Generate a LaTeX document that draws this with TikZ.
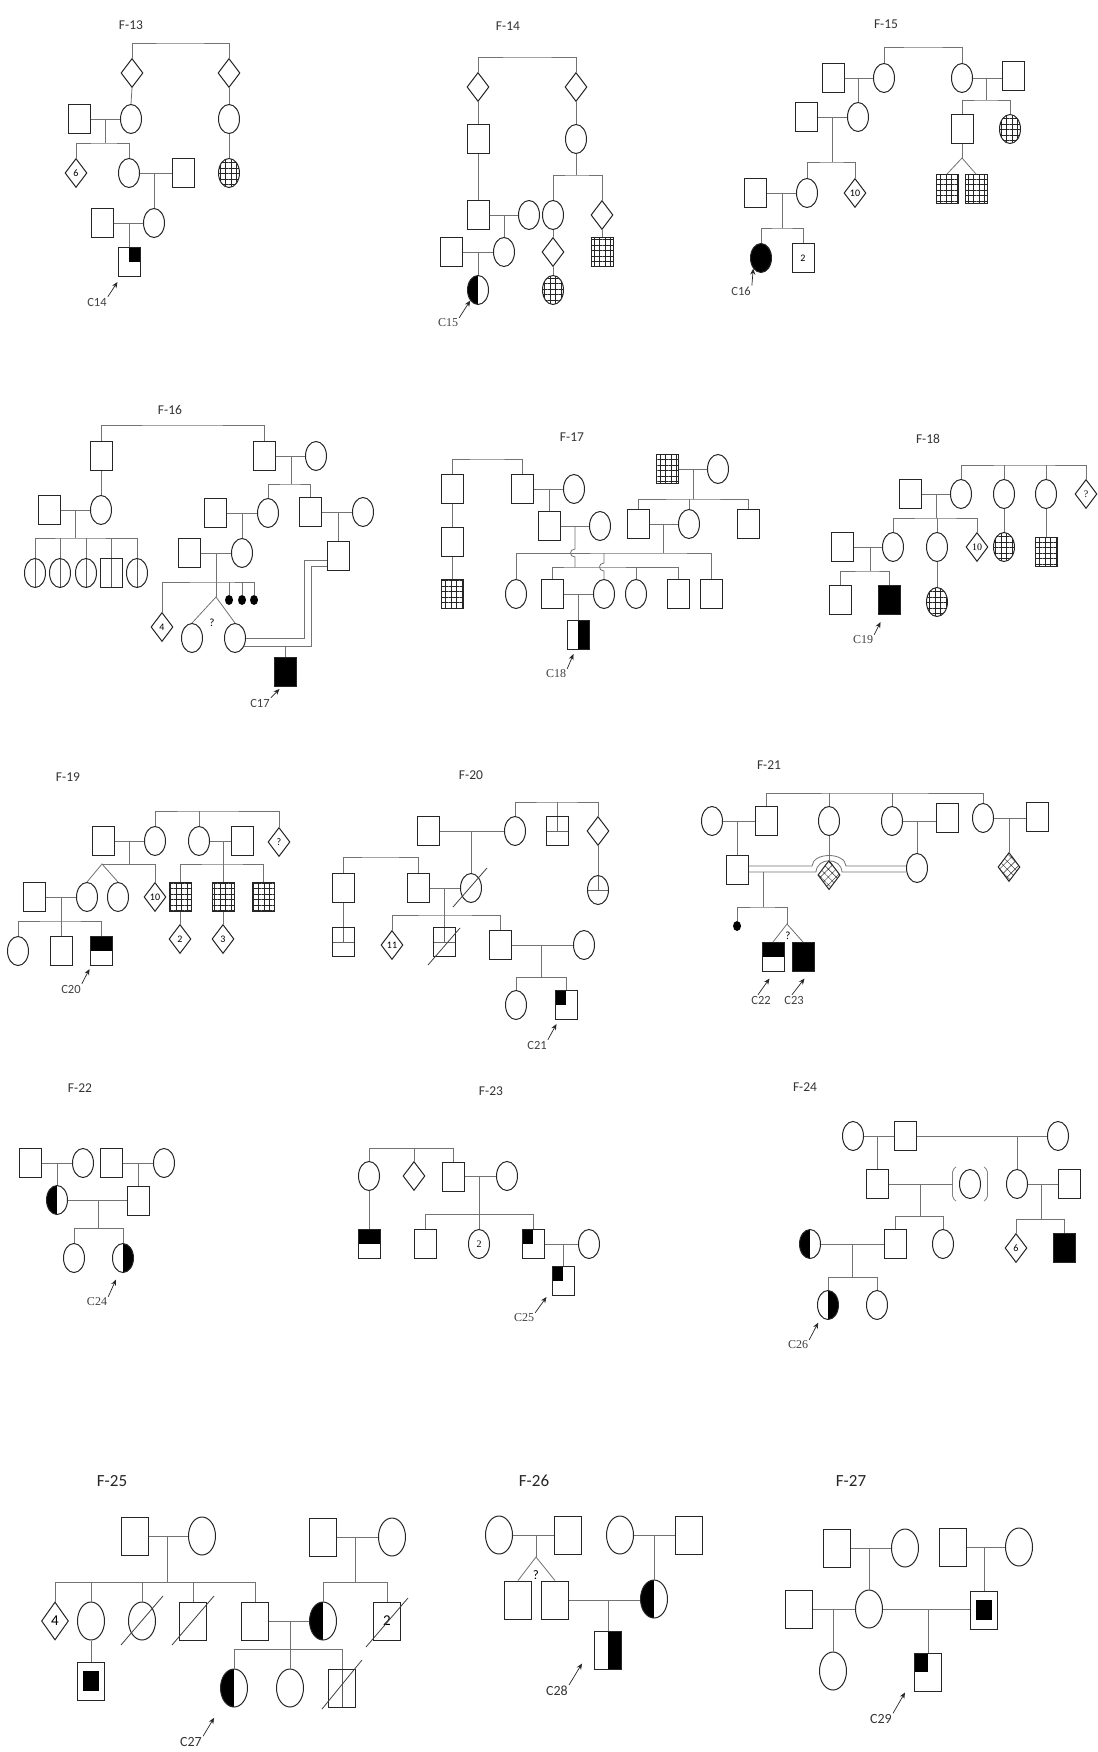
\documentclass[tikz,border=0pt]{standalone}
\usepackage{fontspec}
\setmainfont{Carlito}
\newfontfamily\serifF{Liberation Serif}
\usetikzlibrary{shapes.geometric,patterns.meta,arrows.meta}
\newcommand\fsz[1]{\fontsize{#1}{#1}\selectfont}
\tikzset{
 ln/.style={draw=black!55, line width=0.8pt},
 sl/.style={draw=black!75, line width=0.8pt},
 shp/.style={draw=black!85, line width=1pt, inner sep=0pt, fill=white},
 sq/.style={shp, rectangle, minimum width=22pt, minimum height=29pt, font=\fsz{10}},
 ci/.style={shp, ellipse, minimum width=21pt, minimum height=29pt, font=\fsz{10}},
 di/.style={shp, diamond, minimum width=22pt, minimum height=29pt, font=\fsz{10}},
 big/.style={minimum width=27pt, minimum height=38pt},
 gridc/.style={pattern={Hatch[angle=0,distance=5.5pt,line width=0.45pt]}, pattern color=black!85},
 gridd/.style={pattern={Hatch[angle=45,distance=5.5pt,line width=0.45pt]}, pattern color=black!85},
 lh/.style={path picture={\fill[black] (path picture bounding box.south west) rectangle (path picture bounding box.north);}},
 rh/.style={path picture={\fill[black] (path picture bounding box.south) rectangle (path picture bounding box.north east);}},
 th/.style={path picture={\fill[black] (path picture bounding box.west) rectangle (path picture bounding box.north east);}},
 tl/.style={path picture={\fill[black] (path picture bounding box.west) rectangle (path picture bounding box.north);}},
 tr/.style={path picture={\fill[black] (path picture bounding box.center) rectangle (path picture bounding box.north east);}},
 innr/.style={path picture={\fill[black] ([xshift=5.5pt,yshift=9pt]path picture bounding box.south west) rectangle ([xshift=-5.5pt,yshift=-9pt]path picture bounding box.north east);}},
 vl/.style={path picture={\draw[black!65,line width=0.7pt] (path picture bounding box.north) -- (path picture bounding box.south);}},
 hm/.style={path picture={\draw[black!60,line width=0.7pt] (path picture bounding box.west) -- (path picture bounding box.east) (path picture bounding box.north) -- (path picture bounding box.center);}},
 blob/.style={fill=black, ellipse, minimum width=8pt, minimum height=10pt, inner sep=0pt},
 brk/.style={draw=black!50, line width=0.8pt, rounded corners=2pt},
 ttl/.style={font=\fsz{13.5}, text=black!80},
 ttlb/.style={font=\fsz{17}, text=black!85},
 lab/.style={font=\fsz{12.5}, text=black!75, inner sep=1pt},
 labs/.style={font=\serifF\fsz{12}, text=black!75, inner sep=1pt},
 labb/.style={font=\fsz{14}, text=black!80, inner sep=1pt},
 arr/.style={-{Stealth[length=6pt,width=5pt]}, line width=0.7pt, draw=black!85},
}
\begin{document}
\begin{tikzpicture}[x=1pt,y=-1pt]
\fill[white] (0,0) rectangle (1097,1752);
\useasboundingbox (0,0) rectangle (1097,1752);

% ===== F-13
\node[ttl] (t13) at (131,25) {F-13};
\node[di] (a13) at (132,73) {};
\node[di] (b13) at (229,73) {};
\coordinate (s13a) at (180,43);
\draw[ln] (a13.north) |- (s13a) -| (b13.north);
\node[sq] (c13) at (79,119) {};
\node[ci] (d13) at (131,119) {};
\node[ci] (h13) at (229,119) {};
\draw[ln] (a13.south) -- (d13.north);
\draw[ln] (b13.south) -- (h13.north);
\draw[ln] (c13.east) -- (d13.west);
\coordinate (m13a) at (105,119);
\coordinate (s13b) at (105,143);
\draw[ln] (m13a) -- (s13b);
\node[di] (e13) at (76,173) {6};
\node[ci] (f13) at (129,173) {};
\node[sq] (g13) at (183,173) {};
\node[ci,gridc] (i13) at (229,173) {};
\draw[ln] (e13.north) |- (s13b) -| (f13.north);
\draw[ln] (f13.east) -- (g13.west);
\draw[ln] (h13.south) -- (i13.north);
\node[ci] (j13) at (154,223) {};
\node[sq] (k13) at (102,223) {};
\draw[ln] (j13.north |- f13) -- (j13.north);
\draw[ln] (k13.east) -- (j13.west);
\node[sq,tr] (l13) at (129,262) {};
\draw[ln] (l13.north |- k13) -- (l13.north);
\node[lab] (L14) at (97,302) {C14};
\draw[arr] (L14.north east) -- ([shift={(0,5)}]l13.south west);

% ===== F-14
\node[ttl] (t14) at (508,26) {F-14};
\node[di] (a14) at (478,87) {};
\node[di] (b14) at (576,87) {};
\coordinate (s14a) at (527,57);
\draw[ln] (a14.north) |- (s14a) -| (b14.north);
\node[sq] (c14) at (478,139) {};
\node[ci] (d14) at (576,139) {};
\draw[ln] (a14.south) -- (c14.north);
\draw[ln] (b14.south) -- (d14.north);
\node[sq] (e14) at (478,215) {};
\draw[ln] (c14.south) -- (e14.north);
\node[ci] (f14) at (529,215) {};
\draw[ln] (e14.east) -- (f14.west);
\node[ci] (g14) at (504,252) {};
\draw[ln] (g14.north |- e14) -- (g14.north);
\node[sq] (h14) at (451,252) {};
\draw[ln] (h14.east) -- (g14.west);
\node[ci,lh] (i14) at (478,290) {};
\draw[ln] (i14.north |- h14) -- (i14.north);
\coordinate (s14b) at (576,175);
\draw[ln] (d14.south) -- (s14b);
\node[ci] (j14) at (553,215) {};
\node[di] (k14) at (602,215) {};
\draw[ln] (j14.north) |- (s14b) -| (k14.north);
\node[di] (l14) at (553,252) {};
\node[ci,gridc] (m14) at (553,290) {};
\node[sq,gridc] (n14) at (602,252) {};
\draw[ln] (j14.south) -- (l14.north);
\draw[ln] (l14.south) -- (m14.north);
\draw[ln] (k14.south) -- (n14.north);
\node[labs] (L15) at (448,323) {C15};
\draw[arr] (L15.north east) -- (i14.south west);

% ===== F-15
\node[ttl] (t15) at (886,24) {F-15};
\node[ci] (a15) at (884,78) {};
\node[ci] (b15) at (962,78) {};
\coordinate (s15a) at (923,47);
\draw[ln] (a15.north) |- (s15a) -| (b15.north);
\node[sq] (c15) at (833,78) {};
\draw[ln] (c15.east) -- (a15.west);
\node[ci] (d15) at (858,117) {};
\draw[ln] (d15.north |- c15) -- (d15.north);
\node[sq] (e15) at (806,117) {};
\draw[ln] (e15.east) -- (d15.west);
\coordinate (m15a) at (832,117);
\coordinate (s15b) at (832,162);
\draw[ln] (m15a) -- (s15b);
\node[ci] (f15) at (807,193) {};
\node[di] (g15) at (855,193) {10};
\draw[ln] (f15.north) |- (s15b) -| (g15.north);
\node[sq] (h15) at (755,193) {};
\draw[ln] (h15.east) -- (f15.west);
\coordinate (m15b) at (782,193);
\coordinate (s15c) at (782,228);
\draw[ln] (m15b) -- (s15c);
\node[ci,fill=black] (i15) at (761,258) {};
\node[sq] (j15) at (803,258) {2};
\draw[ln] (i15.north) |- (s15c) -| (j15.north);
\node[lab] (L16) at (741,291) {C16};
\draw[arr] (L16.north east) -- (i15.south west);
\node[sq] (k15) at (1013,76) {};
\draw[ln] (b15.east) -- (b15.east -| k15.west);
\coordinate (m15c) at (986,78);
\coordinate (s15d) at (986,100);
\draw[ln] (m15c) -- (s15d);
\node[sq] (l15) at (962,129) {};
\node[ci,gridc] (n15) at (1010,129) {};
\draw[ln] (l15.north) |- (s15d) -| (n15.north);
\coordinate (tw15) at (962,158);
\draw[ln] (l15.south) -- (tw15);
\node[sq,gridc] (o15) at (947,189) {};
\node[sq,gridc] (p15) at (976,189) {};
\draw[ln] (o15.north) -- (tw15) -- (p15.north);

% ===== F-16
\node[ttl] (t16) at (170,410) {F-16};
\node[sq] (a16) at (101,456) {};
\node[sq] (b16) at (264,456) {};
\coordinate (s16a) at (182,425);
\draw[ln] (a16.north) |- (s16a) -| (b16.north);
\node[ci] (c16) at (316,456) {};
\draw[ln] (b16.east) -- (c16.west);
\coordinate (m16a) at (291,456);
\coordinate (s16b) at (291,484);
\draw[ln] (m16a) -- (s16b);
\node[ci] (d16) at (101,510) {};
\draw[ln] (a16.south) -- (d16.north);
\node[sq] (e16) at (49,510) {};
\draw[ln] (e16.east) -- (d16.west);
\coordinate (m16b) at (75,510);
\coordinate (s16c) at (75,538);
\draw[ln] (m16b) -- (s16c);
\node[ci,vl] (f16) at (35,573) {};
\node[ci,vl] (g16) at (60,573) {};
\node[ci,vl] (h16) at (86,573) {};
\node[sq,vl] (i16) at (111,573) {};
\node[ci,vl] (j16) at (137,573) {};
\draw[ln] (f16.north) |- (s16c) -| (j16.north);
\foreach \nn in {g16,h16,i16} \draw[ln] (s16c -| \nn.north) -- (\nn.north);
\node[ci] (k16) at (268,513) {};
\node[sq] (l16) at (310,512) {};
\draw[ln] (k16.north) |- (s16b) -| (l16.north);
\node[sq] (n16) at (215,513) {};
\draw[ln] (n16.east) -- (k16.west);
\node[ci] (o16) at (242,553) {};
\draw[ln] (o16.north |- n16) -- (o16.north);
\node[sq] (p16) at (189,553) {};
\draw[ln] (p16.east) -- (o16.west);
\coordinate (m16c) at (216,553);
\coordinate (s16d) at (216,582);
\draw[ln] (m16c) -- (s16d);
\node[di] (q16) at (162,627) {4};
\coordinate (tw16) at (216,597);
\node[ci] (r16) at (192,638) {};
\node[ci] (u16) at (235,638) {};
\node[blob] (v16) at (229,600) {};
\node[blob] (w16) at (242,600) {};
\node[blob] (x16) at (254,600) {};
\draw[ln] (q16.north) |- (s16d) -| (x16.north);
\draw[ln] (s16d) -- (tw16);
\draw[ln] (r16.north) -- (tw16) -- (u16.north);
\draw[ln] (s16d -| v16.north) -- (v16.north);
\draw[ln] (s16d -| w16.north) -- (w16.north);
\node[font=\fsz{11}] (qq16) at (212,623) {?};
\node[ci] (y16) at (363,512) {};
\draw[ln] (l16.east) -- (y16.west);
\node[sq] (z16) at (338,556) {};
\draw[ln] (z16.north |- l16) -- (z16.north);
\draw[ln] ([yshift=-4pt]z16.west) -- ++(-22,0) |- (u16.east);
\draw[ln] ([yshift=-10pt]z16.west) -- ++(-15,0) |- ([shift={(-1.7,8)}]u16.east);
\coordinate (m16d) at (285,646);
\node[sq,fill=black] (bb16) at (285,672) {};
\draw[ln] (m16d) -- (bb16.north);
\node[lab] (L17) at (260,703) {C17};
\draw[arr] (L17.north east) -- ([shift={(6,2)}]bb16.south west);

% ===== F-17
\node[ttl] (t17) at (572,437) {F-17};
\node[sq] (a17) at (452,489) {};
\node[sq] (b17) at (522,489) {};
\coordinate (s17a) at (487,459);
\draw[ln] (a17.north) |- (s17a) -| (b17.north);
\node[ci] (c17) at (574,489) {};
\draw[ln] (b17.east) -- (c17.west);
\node[sq] (d17) at (549,526) {};
\draw[ln] (d17.north |- b17) -- (d17.north);
\node[sq] (e17) at (452,542) {};
\node[sq,gridc] (f17) at (452,594) {};
\draw[ln] (a17.south) -- (e17.north);
\draw[ln] (e17.south) -- (f17.north);
\node[ci] (g17) at (600,526) {};
\draw[ln] (d17.east) -- (g17.west);
\node[sq,gridc] (h17) at (667,469) {};
\node[ci] (i17) at (718,469) {};
\draw[ln] (h17.east) -- (i17.west);
\coordinate (m17a) at (693,469);
\coordinate (s17b) at (693,499);
\draw[ln] (m17a) -- (s17b);
\node[sq] (j17) at (638,524) {};
\node[ci] (k17) at (689,524) {};
\node[sq] (l17) at (748,524) {};
\draw[ln] (j17.north) |- (s17b) -| (l17.north);
\draw[ln] (s17b -| k17.north) -- (k17.north);
\draw[ln] (j17.east) -- (k17.west);
\coordinate (m17b) at (663,524);
\coordinate (s17c) at (663,553);
\draw[ln] (m17b) -- (s17c);
\node[ci] (n17) at (516,594) {};
\node[ci] (o17) at (604,594) {};
\node[sq] (p17) at (711,594) {};
\draw[ln] (n17.north) |- (s17c) -| (p17.north);
\coordinate (m17c) at (575,526);
\coordinate (s17d) at (575,567);
\draw[ln] (m17c) -- (575,549) .. controls (569,549) and (569,557) .. (575,557) -- (s17d);
\node[sq] (q17) at (552,594) {};
\node[ci] (r17) at (636,594) {};
\node[sq] (u17) at (678,594) {};
\draw[ln] (q17.north) |- (s17d) -| (u17.north);
\draw[ln] (s17d -| r17.north) -- (r17.north);
\draw[ln] (s17c -| o17.north) -- (604,563) .. controls (598,563) and (598,571) .. (604,571) -- (o17.north);
\draw[ln] (q17.east) -- (o17.west);
\node[sq,rh] (v17) at (578,635) {};
\draw[ln] (v17.north |- q17) -- (v17.north);
\node[labs] (L18) at (556,674) {C18};
\draw[arr] (L18.north east) -- ([shift={(7,4)}]v17.south west);

% ===== F-18
\node[ttl] (t18) at (928,439) {F-18};
\node[ci] (a18) at (961,494) {};
\node[ci] (b18) at (1004,494) {};
\node[ci] (c18) at (1046,494) {};
\node[di,font=\serifF\fsz{10}] (d18) at (1086,494) {?};
\coordinate (s18a) at (1025,465);
\draw[ln] (a18.north) |- (s18a) -| (d18.north);
\draw[ln] (s18a -| b18.north) -- (b18.north);
\draw[ln] (s18a -| c18.north) -- (c18.north);
\node[sq] (e18) at (910,494) {};
\draw[ln] (e18.east) -- (a18.west);
\coordinate (m18a) at (936,494);
\coordinate (s18b) at (936,518);
\draw[ln] (m18a) -- (s18b);
\node[ci] (f18) at (893,547) {};
\node[ci] (g18) at (937,547) {};
\node[di,font=\serifF\fsz{10}] (h18) at (977,547) {10};
\draw[ln] (f18.north) |- (s18b) -| (h18.north);
\draw[ln] (s18b -| g18.north) -- (g18.north);
\node[ci,gridc] (i18) at (1004,547) {};
\node[sq,gridc] (j18) at (1046,552) {};
\draw[ln] (b18.south) -- (i18.north);
\draw[ln] (c18.south) -- (j18.north);
\node[ci,gridc] (k18) at (937,602) {};
\draw[ln] (g18.south) -- (k18.north);
\node[sq] (l18) at (842,547) {};
\draw[ln] (l18.east) -- (f18.west);
\coordinate (m18b) at (870,547);
\coordinate (s18c) at (870,571);
\draw[ln] (m18b) -- (s18c);
\node[sq] (n18) at (840,600) {};
\node[sq,fill=black] (o18) at (889,600) {};
\draw[ln] (n18.north) |- (s18c) -| (o18.north);
\node[labs] (L19) at (863,640) {C19};
\draw[arr] (L19.north east) -- ([shift={(3,7)}]o18.south west);

% ===== F-19
\node[ttl] (t19) at (68,777) {F-19};
\node[ci] (a19) at (155,841) {};
\node[ci] (b19) at (199,841) {};
\node[di] (c19) at (279,842) {?};
\coordinate (s19a) at (199,811);
\draw[ln] (a19.north) |- (s19a) -| (c19.north);
\draw[ln] (s19a) -- (b19.north);
\node[sq] (d19) at (103,841) {};
\draw[ln] (d19.east) -- (a19.west);
\coordinate (m19a) at (129,841);
\coordinate (s19b) at (129,864);
\draw[ln] (m19a) -- (s19b);
\coordinate (tw19) at (102,864);
\node[ci] (e19) at (87,897) {};
\node[ci] (f19) at (118,897) {};
\node[di] (g19) at (155,897) {10};
\draw[ln] (tw19) -- (s19b -| g19.north) -- (g19.north);
\draw[ln] (e19.north) -- (tw19) -- (f19.north);
\node[sq] (h19) at (242,841) {};
\draw[ln] (b19.east) -- (h19.west);
\coordinate (m19b) at (223,841);
\coordinate (s19c) at (223,864);
\draw[ln] (m19b) -- (s19c);
\node[sq,gridc] (i19) at (180,897) {};
\node[sq,gridc] (j19) at (223,897) {};
\node[sq,gridc] (k19) at (263,897) {};
\draw[ln] (i19.north) |- (s19c) -| (k19.north);
\draw[ln] (s19c) -- (j19.north);
\node[di] (l19) at (180,939) {2};
\node[di] (n19) at (223,939) {3};
\draw[ln] (i19.south) -- (l19.north);
\draw[ln] (j19.south) -- (n19.north);
\node[sq] (o19) at (34,897) {};
\draw[ln] (o19.east) -- (e19.west);
\coordinate (m19c) at (61,897);
\coordinate (s19d) at (61,921);
\draw[ln] (m19c) -- (s19d);
\node[ci] (p19) at (18,951) {};
\node[sq] (q19) at (61,951) {};
\node[sq,th] (r19) at (101,951) {};
\draw[ln] (p19.north) |- (s19d) -| (r19.north);
\draw[ln] (s19d) -- (q19.north);
\node[lab] (L20) at (71,989) {C20};
\draw[arr] (L20.north east) -- ([shift={(0,3)}]r19.south west);

% ===== F-20
\node[ttl] (t20) at (471,775) {F-20};
\node[ci] (a20) at (515,831) {};
\node[sq,hm] (b20) at (557,831) {};
\node[di] (c20) at (598,831) {};
\coordinate (s20a) at (557,802);
\draw[ln] (a20.north) |- (s20a) -| (c20.north);
\draw[ln] (s20a) -- (b20.north);
\node[ci,hm] (d20) at (598,890) {};
\draw[ln] (c20.south) -- (d20.north);
\node[sq] (e20) at (428,831) {};
\draw[ln] (e20.east) -- (a20.west);
\node[ci] (f20) at (471,888) {};
\draw[ln] (f20.north |- e20) -- (f20.north);
\draw[sl] ([shift={(-18,19)}]f20.center) -- ([shift={(16,-20)}]f20.center);
\node[sq] (g20) at (343,888) {};
\node[sq] (h20) at (418,888) {};
\coordinate (s20b) at (380,857);
\draw[ln] (g20.north) |- (s20b) -| (h20.north);
\draw[ln] (h20.east) -- (f20.west);
\coordinate (m20a) at (444,888);
\coordinate (s20c) at (444,915);
\draw[ln] (m20a) -- (s20c);
\node[sq,hm] (i20) at (343,942) {};
\draw[ln] (g20.south) -- (i20.north);
\node[di] (j20) at (392,945) {11};
\node[sq,hm] (k20) at (444,942) {};
\node[sq] (l20) at (500,945) {};
\draw[ln] (j20.north) |- (s20c) -| (l20.north);
\draw[ln] (s20c) -- (k20.north);
\draw[sl] ([shift={(-16,23)}]k20.center) -- ([shift={(16,-14)}]k20.center);
\node[ci] (n20) at (584,945) {};
\draw[ln] (l20.east) -- (n20.west);
\coordinate (m20b) at (541,945);
\coordinate (s20d) at (541,977);
\draw[ln] (m20b) -- (s20d);
\node[ci] (o20) at (516,1005) {};
\node[sq,tl] (p20) at (566,1005) {};
\draw[ln] (o20.north) |- (s20d) -| (p20.north);
\node[lab] (L21) at (537,1045) {C21};
\draw[arr] (L21.north east) -- ([shift={(2,4)}]p20.south west);

% ===== F-21
\node[ttl] (t21) at (769,765) {F-21};
\node[sq] (a21) at (766,821) {};
\node[ci] (b21) at (829,821) {};
\node[ci] (c21) at (892,821) {};
\node[ci] (d21) at (983,818) {};
\coordinate (s21a) at (875,793);
\draw[ln] (a21.north) |- (s21a) -| (d21.north);
\draw[ln] (s21a -| b21.north) -- (b21.north);
\draw[ln] (s21a -| c21.north) -- (c21.north);
\node[ci] (e21) at (712,821) {};
\draw[ln] (e21.east) -- (a21.west);
\node[sq] (f21) at (737,870) {};
\draw[ln] (f21.north |- e21) -- (f21.north);
\node[di,gridd] (g21) at (829,875) {};
\draw[ln] (b21.south) -- (g21.north);
\node[sq] (h21) at (947,818) {};
\draw[ln] (c21.east) -- (c21.east -| h21.west);
\node[ci] (i21) at (917,868) {};
\draw[ln] (i21.north |- c21) -- (i21.north);
\node[sq] (j21) at (1037,817) {};
\draw[ln] (d21.east) -- (d21.east -| j21.west);
\node[di,gridd] (k21) at (1009,867) {};
\draw[ln] (k21.north |- d21) -- (k21.north);
\draw[ln] ([yshift=4pt]f21.east) -- (812,866) .. controls (813,852) and (845,852) .. (846,866) -- ([yshift=2pt]i21.west);
\draw[ln] ([yshift=-2pt]f21.east) -- (816,872) .. controls (817,857) and (841,857) .. (842,872) -- ([yshift=-4pt]i21.west);
\coordinate (m21) at (763,872);
\coordinate (s21b) at (763,907);
\draw[ln] (m21) -- (s21b);
\node[blob] (n21) at (737,926) {};
\coordinate (tw21) at (787,924);
\draw[ln] (n21.north) |- (s21b) -| (tw21);
\node[sq,th] (o21) at (773,957) {};
\node[sq,fill=black] (p21) at (803,957) {};
\draw[ln] (o21.north) -- (tw21) -- (p21.north);
\node[font=\fsz{11}] (q21) at (788,936) {?};
\node[lab] (L22) at (761,1000) {C22};
\node[lab] (L23) at (794,1000) {C23};
\draw[arr] ([xshift=-3pt]L22.north) -- ([shift={(8,6.5)}]o21.south west);
\draw[arr] ([xshift=-2pt]L23.north) -- ([shift={(13,6.5)}]p21.south west);

% ===== F-22
\node[ttl] (t22) at (80,1088) {F-22};
\node[sq] (a22) at (30,1163) {};
\node[ci] (b22) at (83,1163) {};
\draw[ln] (a22.east) -- (b22.west);
\node[ci,lh] (c22) at (57,1200) {};
\draw[ln] (c22.north |- a22) -- (c22.north);
\node[sq] (d22) at (111,1163) {};
\node[ci] (e22) at (164,1163) {};
\draw[ln] (d22.east) -- (e22.west);
\node[sq] (f22) at (138,1201) {};
\draw[ln] (f22.north |- d22) -- (f22.north);
\draw[ln] (c22.east) -- (c22.east -| f22.west);
\coordinate (m22) at (98,1200);
\coordinate (s22) at (98,1228);
\draw[ln] (m22) -- (s22);
\node[ci] (g22) at (74,1258) {};
\node[ci,rh] (h22) at (123,1258) {};
\draw[ln] (g22.north) |- (s22) -| (h22.north);
\node[labs] (L24) at (97,1302) {C24};
\draw[arr] (L24.north east) -- ([shift={(-7,6.5)}]h22.south);

% ===== F-23
\node[ttl] (t23) at (491,1091) {F-23};
\node[ci] (a23) at (369,1176) {};
\node[di] (b23) at (414,1176) {};
\node[sq] (c23) at (453,1177) {};
\coordinate (s23a) at (414,1148);
\draw[ln] (a23.north) |- (s23a) -| (c23.north);
\draw[ln] (s23a) -- (b23.north);
\node[ci] (d23) at (507,1176) {};
\draw[ln] (c23.east |- d23) -- (d23.west);
\coordinate (m23a) at (479,1176);
\coordinate (s23b) at (479,1214);
\draw[ln] (m23a) -- (s23b);
\node[sq] (e23) at (425,1244) {};
\node[ci,font=\serifF\fsz{10}] (f23) at (479,1244) {2};
\node[sq,tl] (g23) at (533,1244) {};
\draw[ln] (e23.north) |- (s23b) -| (g23.north);
\draw[ln] (s23b) -- (f23.north);
\node[ci] (h23) at (589,1244) {};
\draw[ln] (g23.east) -- (h23.west);
\node[sq,tl] (i23) at (563,1281) {};
\draw[ln] (i23.north |- g23) -- (i23.north);
\node[sq,th] (j23) at (369,1244) {};
\draw[ln] (a23.south) -- (j23.north);
\node[labs] (L25) at (524,1318) {C25};
\draw[arr] (L25.north east) -- ([shift={(-5,1)}]i23.south west);

% ===== F-24
\node[ttl] (t24) at (805,1087) {F-24};
\node[ci] (a24) at (853,1136) {};
\node[sq] (b24) at (905,1136) {};
\node[ci] (c24) at (1058,1136) {};
\draw[ln] (a24.east) -- (b24.west);
\draw[ln] (b24.east) -- (c24.west);
\node[sq] (d24) at (877,1184) {};
\draw[ln] (d24.north |- a24) -- (d24.north);
\node[ci] (e24) at (1017,1184) {};
\draw[ln] (e24.north |- b24) -- (e24.north);
\node[ci] (f24) at (970,1184) {};
\draw[brk] ([shift={(-3,-17)}]f24.west) -- ([shift={(-6.5,-14)}]f24.west) -- ([shift={(-6.5,14)}]f24.west) -- ([shift={(-3,17)}]f24.west);
\draw[brk] ([shift={(3,-17)}]f24.east) -- ([shift={(6.5,-14)}]f24.east) -- ([shift={(6.5,14)}]f24.east) -- ([shift={(3,17)}]f24.east);
\draw[ln] (d24.east) -- ([xshift=-6.5pt]f24.west);
\coordinate (m24a) at (920,1184);
\coordinate (s24a) at (920,1216);
\draw[ln] (m24a) -- (s24a);
\node[sq] (g24) at (895,1244) {};
\node[ci] (h24) at (943,1244) {};
\draw[ln] (g24.north) |- (s24a) -| (h24.north);
\node[sq] (i24) at (1069,1184) {};
\draw[ln] (e24.east) -- (i24.west);
\coordinate (m24b) at (1041,1184);
\coordinate (s24b) at (1041,1219);
\draw[ln] (m24b) -- (s24b);
\node[di] (j24) at (1016,1248) {6};
\node[sq,fill=black] (k24) at (1064,1248) {};
\draw[ln] (j24.north) |- (s24b) -| (k24.north);
\node[ci,lh] (l24) at (810,1244) {};
\draw[ln] (l24.east) -- (g24.west);
\coordinate (m24c) at (852,1244);
\coordinate (s24c) at (852,1277);
\draw[ln] (m24c) -- (s24c);
\node[ci,rh] (n24) at (828,1305) {};
\node[ci] (o24) at (877,1305) {};
\draw[ln] (n24.north) |- (s24c) -| (o24.north);
\node[labs] (L26) at (798,1345) {C26};
\draw[arr] (L26.north east) -- ([shift={(-2,7)}]n24.south west);

% ===== F-25
\node[ttlb] (t25) at (112,1481) {F-25};
\node[sq,big] (a25) at (135,1536) {};
\node[ci,big] (b25) at (202,1536) {};
\draw[ln] (a25.east) -- (b25.west);
\coordinate (m25a) at (167,1536);
\coordinate (s25a) at (167,1582);
\draw[ln] (m25a) -- (s25a);
\node[di,big,font=\fsz{15}] (c25) at (55,1621) {4};
\node[ci,big] (d25) at (91,1621) {};
\node[ci,big] (e25) at (142,1621) {};
\node[sq,big] (f25) at (193,1621) {};
\node[sq,big] (g25) at (255,1621) {};
\draw[ln] (c25.north) |- (s25a) -| (g25.north);
\foreach \nn in {d25,e25,f25} \draw[ln] (s25a -| \nn.north) -- (\nn.north);
\draw[sl] ([shift={(-21,24)}]e25.center) -- ([shift={(21,-25)}]e25.center);
\draw[sl] ([shift={(-21,24)}]f25.center) -- ([shift={(21,-25)}]f25.center);
\node[sq,big,innr] (h25) at (91,1681) {};
\draw[ln] (d25.south) -- (h25.north);
\node[sq,big] (i25) at (323,1537) {};
\node[ci,big] (j25) at (392,1537) {};
\draw[ln] (i25.east) -- (j25.west);
\coordinate (m25b) at (355,1537);
\coordinate (s25b) at (355,1582);
\draw[ln] (m25b) -- (s25b);
\node[ci,big,lh] (k25) at (323,1621) {};
\node[sq,big,font=\fsz{15}] (l25) at (387,1621) {2};
\draw[ln] (k25.north) |- (s25b) -| (l25.north);
\draw[sl] ([shift={(-21,26)}]l25.center) -- ([shift={(21,-23)}]l25.center);
\draw[ln] (g25.east) -- (k25.west);
\coordinate (m25c) at (290,1621);
\coordinate (s25c) at (290,1649);
\draw[ln] (m25c) -- (s25c);
\node[ci,big,lh] (n25) at (234,1688) {};
\node[ci,big] (o25) at (290,1688) {};
\node[sq,big,vl] (p25) at (342,1688) {};
\draw[ln] (n25.north) |- (s25c) -| (p25.north);
\draw[ln] (s25c) -- (o25.north);
\draw[sl] ([shift={(-20,21)}]p25.center) -- ([shift={(20,-28)}]p25.center);
\node[labb] (L27) at (191,1742) {C27};
\draw[arr] (L27.north east) -- ([shift={(-10,16)}]n25.south west);

% ===== F-26
\node[ttlb] (t26) at (534,1481) {F-26};
\node[ci,big] (a26) at (499,1535) {};
\node[sq,big] (b26) at (568,1535) {};
\draw[ln] (a26.east) -- (b26.west);
\coordinate (m26a) at (536,1535);
\coordinate (tw26) at (536,1557);
\draw[ln] (m26a) -- (tw26);
\node[sq,big] (c26) at (518,1600) {};
\node[sq,big] (d26) at (555,1600) {};
\draw[ln] (c26.north) -- (tw26) -- (d26.north);
\node[font=\fsz{13}] (q26) at (536,1575) {?};
\node[ci,big] (e26) at (620,1535) {};
\node[sq,big] (f26) at (689,1535) {};
\draw[ln] (e26.east) -- (f26.west);
\node[ci,big,lh] (g26) at (654,1599) {};
\draw[ln] (g26.north |- e26) -- (g26.north);
\draw[ln] (d26.east) -- (d26.east -| g26.west);
\coordinate (m26b) at (608,1600);
\node[sq,big,rh] (h26) at (608,1650) {};
\draw[ln] (m26b) -- (h26.north);
\node[labb] (L28) at (557,1691) {C28};
\draw[arr] (L28.north east) -- ([shift={(-12,-6)}]h26.south west);

% ===== F-27
\node[ttlb] (t27) at (851,1481) {F-27};
\node[sq,big] (a27) at (837,1548) {};
\node[ci,big] (b27) at (905,1548) {};
\draw[ln] (a27.east) -- (b27.west);
\node[ci,big] (c27) at (869,1609) {};
\draw[ln] (c27.north |- a27) -- (c27.north);
\node[sq,big] (d27) at (953,1547) {};
\node[ci,big] (e27) at (1019,1547) {};
\draw[ln] (d27.east) -- (e27.west);
\node[sq,big,innr] (f27) at (984,1610) {};
\draw[ln] (f27.north |- d27) -- (f27.north);
\node[sq,big] (g27) at (799,1609) {};
\draw[ln] (g27.east) -- (c27.west);
\node[ci,big] (h27) at (833,1671) {};
\draw[ln] (h27.north |- g27) -- (h27.north);
\draw[ln] (c27.east) -- (c27.east -| f27.west);
\node[sq,big,tl] (i27) at (928,1672) {};
\draw[ln] (i27.north |- c27) -- (i27.north);
\node[labb] (L29) at (881,1719) {C29};
\draw[arr] (L29.north east) -- ([shift={(-9,1)}]i27.south west);
\end{tikzpicture}
\end{document}
